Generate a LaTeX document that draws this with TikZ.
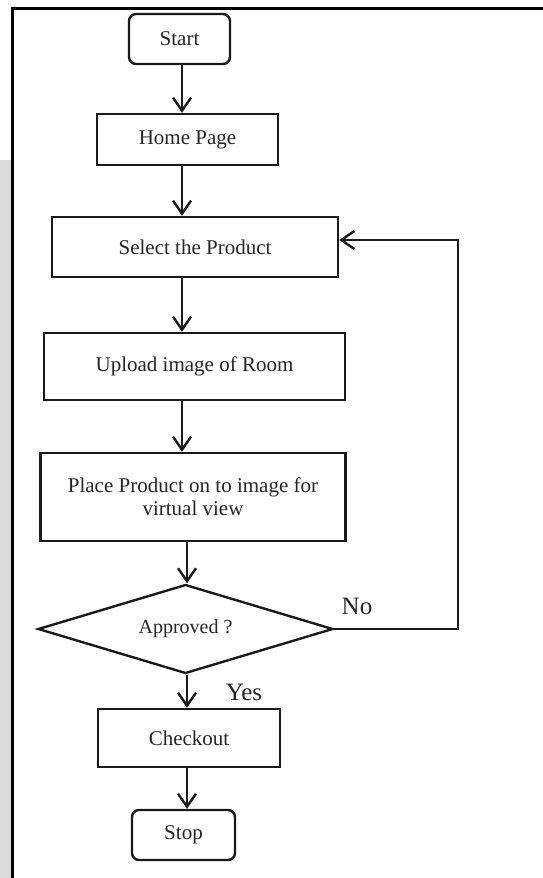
\documentclass[tikz,border=0pt]{standalone}
\usepackage{fontspec}
\setmainfont{Liberation Serif}
\usetikzlibrary{arrows.meta,shapes.geometric}
\tikzset{
  box/.style={draw=black!90, line width=2.4pt, rectangle, inner sep=2pt, align=center,
    text=black!85, font=\fontsize{21}{23}\selectfont},
  term/.style={box, rounded corners=7pt},
  decision/.style={draw=black!90, line width=2.4pt, diamond, inner sep=0pt, aspect=3.3,
    text=black!85, font=\fontsize{20}{23}\selectfont},
  arr/.style={line width=2.4pt, draw=black!90, -{Straight Barb[length=13pt, width=18pt, line width=2.4pt]}},
  lbl/.style={font=\fontsize{25}{27}\selectfont, text=black!85, inner sep=0pt},
  frameline/.style={line width=3.5pt, black}
}
\begin{document}
\begin{tikzpicture}[x=1pt, y=-1pt]
\useasboundingbox (0,0) rectangle (543,878);
\fill[white] (0,0) rectangle (543,878);
\fill[black!14] (0,160) rectangle (11,878);
\draw[frameline] (12.5,878) -- (12.5,8.5) -- (543,8.5);

\coordinate (ax1) at (182,0);
\coordinate (ax2) at (187,0);

\node[term, minimum width=101pt, minimum height=50pt] (start) at (179.5,39) {Start};
\node[box, minimum width=181pt, minimum height=51pt] (home) at (187.5,139.5) {Home Page};
\node[box, minimum width=286pt, minimum height=60pt] (select) at (195,247) {Select the Product};
\node[box, minimum width=301pt, minimum height=67pt] (upload) at (194.5,366.5) {Upload image of Room};
\node[box, minimum width=305pt, minimum height=88pt] (place) at (193,497) {Place Product on to image for\\virtual view};
\node[decision, minimum width=295pt, minimum height=89pt] (dia) at (185.5,629) {Approved ?};
\node[box, minimum width=182pt, minimum height=58pt] (checkout) at (189,738) {Checkout};
\node[term, minimum width=103pt, minimum height=50pt] (stop) at (183.5,835) {Stop};

\node[lbl] (no) at (357,606) {No};
\node[lbl] (yes) at (244,692) {Yes};

\draw[arr] (start.south -| ax1) -- (home.north -| ax1);
\draw[arr] (home.south -| ax1) -- (select.north -| ax1);
\draw[arr] (select.south -| ax1) -- (upload.north -| ax1);
\draw[arr] (upload.south -| ax1) -- (place.north -| ax1);
\draw[arr] (place.south -| ax2) -- (dia.north -| ax2);
\draw[arr] (dia.south -| ax2) -- (checkout.north -| ax2);
\draw[arr] (checkout.south -| ax2) -- (stop.north -| ax2);

\coordinate (lc) at (458,240);
\draw[arr, line width=2.8pt] (dia.east) -| (lc) -- (lc -| select.east);
\end{tikzpicture}
\end{document}
